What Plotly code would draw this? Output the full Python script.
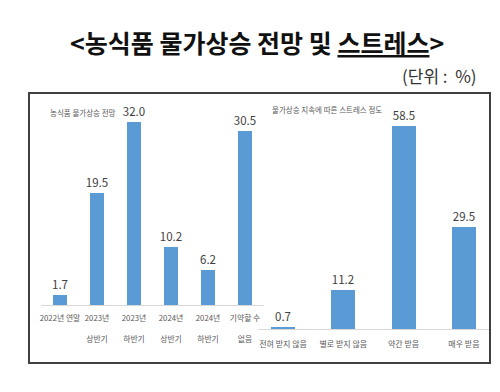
import plotly.graph_objects as go

W, H = 500, 392

# ---- data ----
title_text = "<농식품 물가상승 전망 및 <u>스트레스</u>>"
unit_text = "(단위\u00a0:\u00a0\u00a0%)"

left_title = "농식품 물가상승 전망"
left_cats = ["2022년 연말", "2023년<br><br>상반기", "2023년<br><br>하반기",
             "2024년<br><br>상반기", "2024년<br><br>하반기", "기약할 수<br><br>없음"]
left_vals = [1.7, 19.5, 32.0, 10.2, 6.2, 30.5]

right_title = "물가상승 지속에 따른 스트레스 정도"
right_cats = ["전혀 받지 않음", "별로 받지 않음", "약간 받음", "매우 받음"]
right_vals = [0.7, 11.2, 58.5, 29.5]

BLUE = "#5B9BD5"
TXT = "#595959"
KR = "Noto Sans CJK KR"
NUM = "Liberation Sans Narrow, Noto Sans CJK KR"


def fx(p):
    return p / W


def fy(p):
    return 1 - p / H


fig = go.Figure()
fig.add_trace(go.Bar(
    x=list(range(len(left_cats))), y=left_vals, xaxis="x", yaxis="y",
    marker=dict(color=BLUE, line=dict(width=0)), width=0.4,
    text=[f"{v:.1f}" for v in left_vals], textposition="outside", constraintext="none",
    textfont=dict(family=NUM, size=11.5, color="#404040"),
    cliponaxis=False, showlegend=False, hoverinfo="skip"))
fig.add_trace(go.Bar(
    x=list(range(len(right_cats))), y=right_vals, xaxis="x2", yaxis="y2",
    marker=dict(color=BLUE, line=dict(width=0)), width=0.4,
    text=[f"{v:.1f}" for v in right_vals], textposition="outside", constraintext="none",
    textfont=dict(family=NUM, size=11.5, color="#404040"),
    cliponaxis=False, showlegend=False, hoverinfo="skip"))

# left geometry: categories at 52 + 37*i px, domain 33..256
l0, l1, lc0, lsp = 33, 256, 52, 37
r0, r1, rc0, rsp = 250, 482, 275, 60.3

fig.update_layout(
    width=W, height=H, margin=dict(l=0, r=0, t=0, b=0),
    paper_bgcolor="white", plot_bgcolor="rgba(0,0,0,0)",
    bargap=0,
    xaxis=dict(domain=[fx(l0), fx(l1)], anchor="y",
               range=[-(lc0 - l0) / lsp, len(left_cats) - 1 + (l1 - (lc0 + lsp * 5)) / lsp],
               tickmode="array", tickvals=list(range(len(left_cats))), ticktext=left_cats,
               tickfont=dict(family=KR, size=7.8, color=TXT), ticks="",
               showline=True, linecolor="#D9D9D9", linewidth=1, showgrid=False,
               zeroline=False, ticklabelstandoff=6, tickangle=0),
    yaxis=dict(domain=[fy(297), fy(114)], anchor="x", range=[0, 32],
               visible=False, showgrid=False, zeroline=False),
    xaxis2=dict(domain=[fx(r0), fx(r1)], anchor="y2",
                range=[-(rc0 - r0) / rsp, 3 + (r1 - (rc0 + rsp * 3)) / rsp],
                tickmode="array", tickvals=list(range(len(right_cats))), ticktext=right_cats,
                tickfont=dict(family=KR, size=8, color=TXT), ticks="",
                showline=True, linecolor="#D9D9D9", linewidth=1, showgrid=False,
                zeroline=False, ticklabelstandoff=7, tickangle=0),
    yaxis2=dict(domain=[fy(321), fy(118)], anchor="x2", range=[0, 58.5],
                visible=False, showgrid=False, zeroline=False),
)

fig.add_shape(type="rect", xref="paper", yref="paper",
              x0=fx(21), x1=fx(482), y0=fy(355), y1=fy(85),
              line=dict(color="#404040", width=2), fillcolor="rgba(0,0,0,0)", layer="above")

fig.add_annotation(text="<b>" + title_text + "</b>", xref="paper", yref="paper",
                   x=fx(249), y=fy(34), showarrow=False, xanchor="center", yanchor="middle",
                   font=dict(family=KR, size=25, color="#111111"))
fig.add_annotation(text=unit_text, xref="paper", yref="paper",
                   x=fx(471), y=fy(68), showarrow=False, xanchor="right", yanchor="middle",
                   font=dict(family=KR, size=17, color="#333333"))
fig.add_annotation(text=left_title, xref="paper", yref="paper",
                   x=fx(40), y=fy(104), showarrow=False, xanchor="left", yanchor="middle",
                   font=dict(family=KR, size=7.5, color=TXT))
fig.add_annotation(text=right_title, xref="paper", yref="paper",
                   x=fx(262), y=fy(101), showarrow=False, xanchor="left", yanchor="middle",
                   font=dict(family=KR, size=7.5, color=TXT))

fig.write_html("out.html")
